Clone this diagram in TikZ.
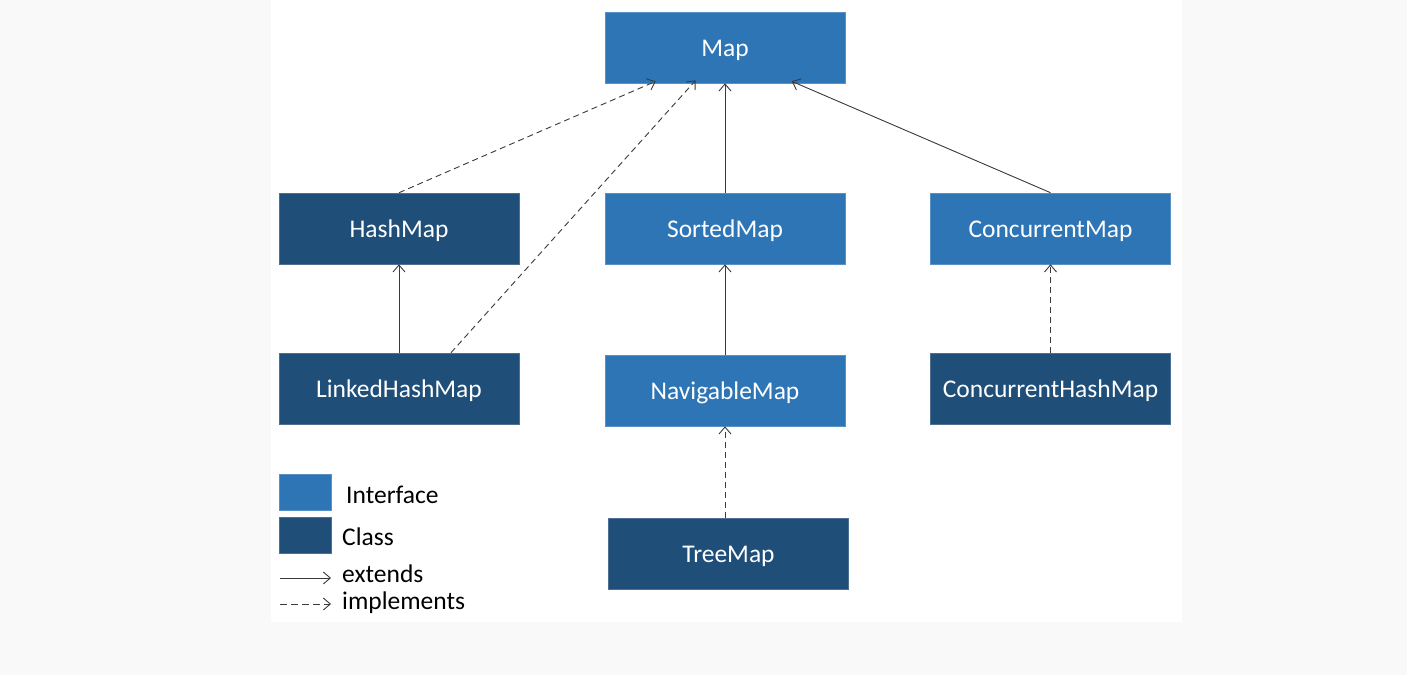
\documentclass[tikz,border=0pt]{standalone}
\usepackage{fontspec}
\setmainfont{Carlito}
\usetikzlibrary{arrows.meta}
\definecolor{ifacecol}{HTML}{2E75B6}
\definecolor{classcol}{HTML}{1F4E79}
\definecolor{linecol}{HTML}{3A3A3A}
\definecolor{pagebg}{HTML}{F9F9F9}
\begin{document}
\begin{tikzpicture}[x=1pt,y=-1pt,
  box/.style={minimum width=240pt,minimum height=71pt,inner sep=0pt,
    text=white,font=\fontsize{25.5}{30}\selectfont,text height=17pt,text depth=0pt,line width=0.6pt},
  iface/.style={box,fill=ifacecol,draw=ifacecol!80!white},
  klass/.style={box,fill=classcol,draw=classcol!80!white},
  swatch/.style={minimum width=52pt,minimum height=36pt,inner sep=0pt,line width=0.6pt},
  legtext/.style={anchor=west,inner sep=0pt,font=\fontsize{25.5}{30}\selectfont},
  ext/.style={draw=linecol,line width=0.9pt,-{Straight Barb[length=7pt,width=12pt,line width=0.9pt]}},
  impl/.style={ext,dash pattern=on 6pt off 4pt}]
% page and white panel
\fill[pagebg] (0,0) rectangle (1407,675);
\fill[white] (271,0) rectangle (1182,622);

% interfaces and classes
\node[iface] (map)   at (725,47.5)  {Map};
\node[klass] (hash)  at (399,228.5) {HashMap};
\node[iface] (sort)  at (725,228.5) {SortedMap};
\node[iface] (conc)  at (1050.5,228.5) {ConcurrentMap};
\node[klass] (lhash) at (399,388.5) {LinkedHashMap};
\node[iface] (nav)   at (725,390.5) {NavigableMap};
\node[klass] (chash) at (1050.5,388.5) {ConcurrentHashMap};
\node[klass] (tree)  at (728.5,553.5) {TreeMap};

% inheritance connectors
\draw[impl] (hash.north) -- ([xshift=51pt,yshift=2pt]map.south west);
\draw[impl] ([xshift=52pt]lhash.north) -- ([xshift=91pt,yshift=3pt]map.south west);
\draw[ext]  (sort.north) -- (map.south);
\draw[ext]  (conc.north) -- ([xshift=187pt,yshift=2pt]map.south west);
\draw[ext]  (lhash.north) -- (hash.south);
\draw[ext]  (nav.north) -- (sort.south);
\draw[impl] (chash.north) -- (conc.south);
\draw[impl] ([xshift=-3.5pt]tree.north) -- (nav.south);

% legend
\node[swatch,fill=ifacecol,draw=ifacecol!80!white] (legi) at (305,492) {};
\node[swatch,fill=classcol,draw=classcol!80!white] (legc) at (305,535.5) {};
\node[legtext] (legit) at (346,495) {Interface};
\node[legtext] (legct) at (342,537) {Class};
\coordinate (exa) at (280,578);
\coordinate (exb) at (331,578);
\coordinate (ima) at (280,604);
\coordinate (imb) at (331,604);
\draw[ext]  (exa) -- (exb);
\draw[impl,dash pattern=on 7pt off 4pt] (ima) -- (imb);
\node[legtext] (legex) at (342,574) {extends};
\node[legtext] (legim) at (342,603) {implements};
\end{tikzpicture}
\end{document}
